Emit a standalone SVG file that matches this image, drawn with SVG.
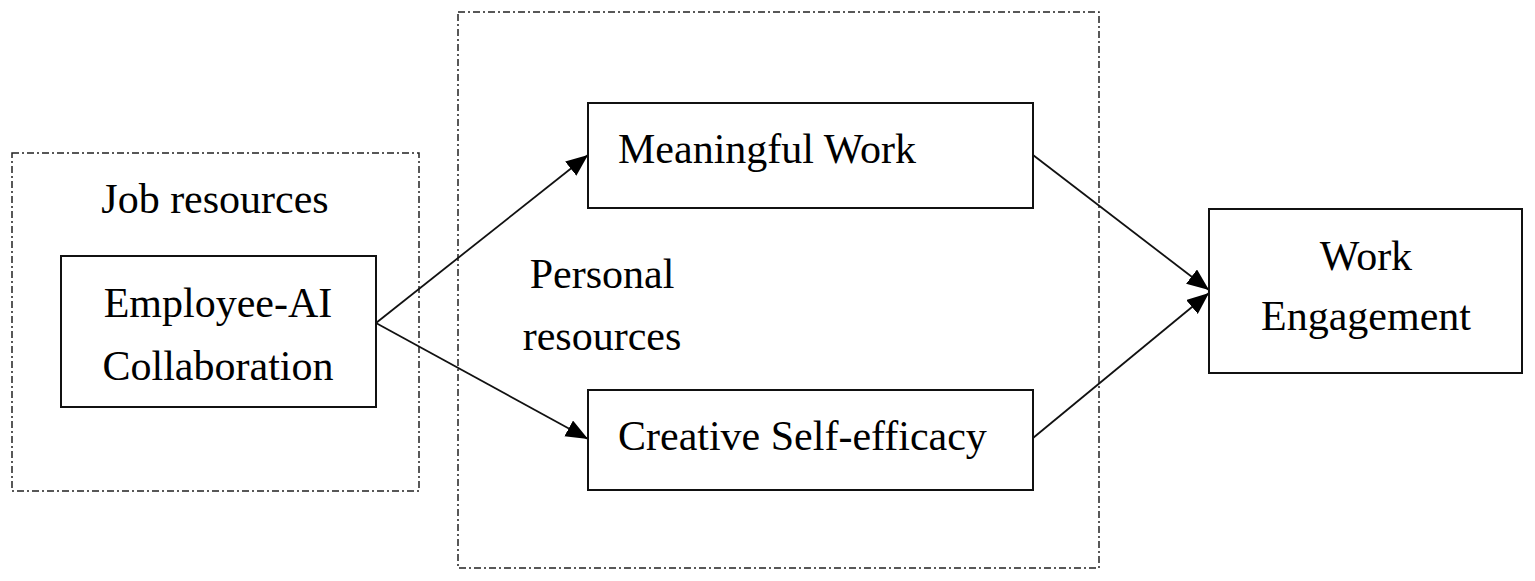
<svg xmlns="http://www.w3.org/2000/svg" width="1535" height="581" viewBox="0 0 1535 581">
<style>
  .dash { fill: none; stroke: #222; stroke-width: 1.5; stroke-dasharray: 7 3 2 3; }
  .box { fill: #fff; stroke: #111; stroke-width: 2; }
  .lbl { font-family: "Liberation Serif", "Times New Roman", serif; font-size: 42px; fill: #000; }
  .edge { stroke: #111; stroke-width: 1.8; fill: none; marker-end: url(#arr); }
</style>
<defs>
  <marker id="arr" markerUnits="userSpaceOnUse" markerWidth="24" markerHeight="20" refX="22" refY="9" orient="auto">
    <path d="M0,0 L22,9 L0,18 Z" fill="#000"/>
  </marker>
</defs>
<rect width="1535" height="581" fill="#fff"/>
<g id="job-resources">
  <rect class="dash" x="12" y="153" width="407" height="338"/>
  <text class="lbl" x="215" y="213" text-anchor="middle">Job resources</text>
</g>
<g id="personal-resources">
  <rect class="dash" x="458" y="12" width="641" height="556"/>
  <text class="lbl" x="602" y="288" text-anchor="middle">Personal</text>
  <text class="lbl" x="602" y="350" text-anchor="middle">resources</text>
</g>
<g id="connectors">
  <line class="edge" x1="376" y1="323" x2="588" y2="155"/>
  <line class="edge" x1="376" y1="323" x2="588" y2="439"/>
  <line class="edge" x1="1033" y1="155" x2="1209" y2="290"/>
  <line class="edge" x1="1033" y1="438" x2="1209" y2="293"/>
</g>
<g id="employee-ai">
  <rect class="box" x="61" y="256" width="315" height="151"/>
  <text class="lbl" x="218" y="317" text-anchor="middle">Employee-AI</text>
  <text class="lbl" x="218" y="380" text-anchor="middle">Collaboration</text>
</g>
<g id="meaningful-work">
  <rect class="box" x="588" y="103" width="445" height="105"/>
  <text class="lbl" x="618" y="163">Meaningful Work</text>
</g>
<g id="creative-self-efficacy">
  <rect class="box" x="588" y="390" width="445" height="100"/>
  <text class="lbl" x="618" y="450">Creative Self-efficacy</text>
</g>
<g id="work-engagement">
  <rect class="box" x="1209" y="209" width="313" height="164"/>
  <text class="lbl" x="1366" y="270" text-anchor="middle">Work</text>
  <text class="lbl" x="1366" y="330" text-anchor="middle">Engagement</text>
</g>
</svg>
